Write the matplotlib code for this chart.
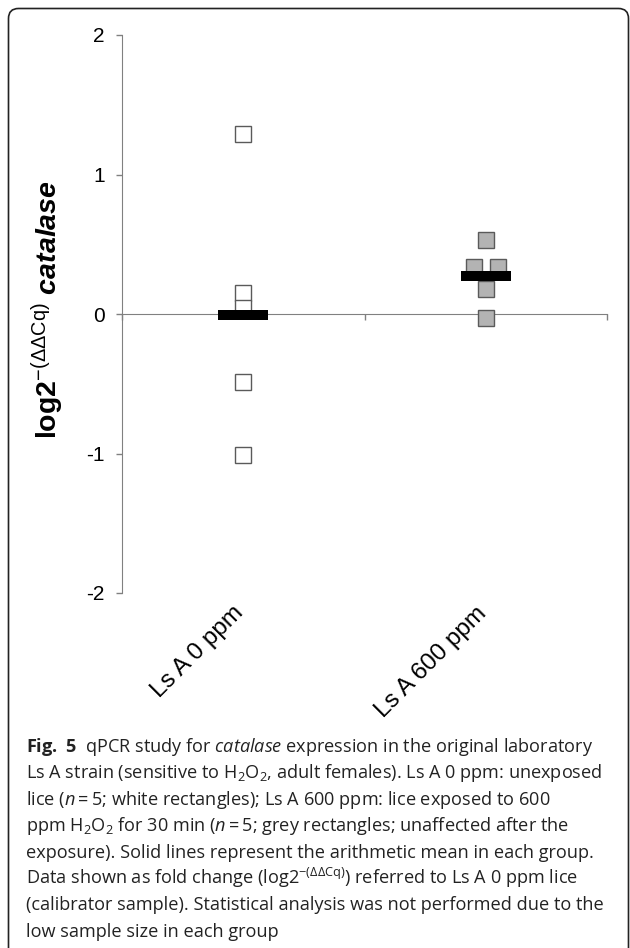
import matplotlib
matplotlib.use('Agg')
import matplotlib.pyplot as plt
import matplotlib.patches as mpatches
import matplotlib.transforms as mtransforms
import numpy as np

# --- data ---
groups = ['Ls A 0 ppm', 'Ls A 600 ppm']
vals_0ppm = [1.29, 0.15, 0.04, -0.49, -1.01]
vals_600ppm = [0.53, 0.34, 0.34, 0.18, -0.03]
# sideways nudge so the two tied 600 ppm points don't hide each other
jitter_0ppm = [0, 0, 0, 0, 0]
jitter_600ppm = [0, -0.05, 0.05, 0, 0]
yticks = [-2, -1, 0, 1, 2]
ytick_labels = ['-2', '-1', '0', '1', '2']

caption_lines = [
    r'$\mathtt{Fig.\ 5}$  qPCR study for $\mathit{catalase}$ expression in the original laboratory',
    r'Ls A strain (sensitive to H$_2$O$_2$, adult females). Ls A 0 ppm: unexposed',
    r'lice ($\mathit{n}=5$; white rectangles); Ls A 600 ppm: lice exposed to 600',
    r'ppm H$_2$O$_2$ for 30 min ($\mathit{n}=5$; grey rectangles; unaffected after the',
    r'exposure). Solid lines represent the arithmetic mean in each group.',
    r'Data shown as fold change (log2$^{-(\Delta\Delta Cq)}$) referred to Ls A 0 ppm lice',
    r'(calibrator sample). Statistical analysis was not performed due to the',
    r'low sample size in each group',
]

cap_font, cap_size = 'Open Sans', 13.1

plt.rcParams['axes.unicode_minus'] = False
plt.rcParams['mathtext.fontset'] = 'custom'
plt.rcParams['mathtext.default'] = 'regular'
plt.rcParams['mathtext.rm'] = cap_font
plt.rcParams['mathtext.it'] = cap_font + ':italic'
plt.rcParams['mathtext.tt'] = cap_font + ':bold'       # "Fig. 5" in the caption
plt.rcParams['mathtext.bf'] = 'Liberation Sans:bold'    # y label
plt.rcParams['mathtext.sf'] = 'Liberation Sans'
plt.rcParams['mathtext.bfit'] = 'Liberation Sans:bold:italic'

W, H = 630, 948
fig = plt.figure(figsize=(W / 100, H / 100), dpi=100)
ax = fig.add_axes([122 / W, 1 - 593 / H, 485 / W, 558 / H])
ax.set_xlim(0, 2)
ax.set_ylim(-2, 2)

axis_grey = '#808080'
for side in ['top', 'right']:
    ax.spines[side].set_visible(False)
ax.spines['left'].set_color(axis_grey)
ax.spines['bottom'].set_color(axis_grey)
ax.spines['bottom'].set_position(('data', 0))

ax.set_xticks([0, 1, 2])
ax.tick_params(axis='x', direction='out', length=4.5, width=1, color=axis_grey, labelbottom=False)
ax.set_yticks(yticks)
ax.set_yticklabels(ytick_labels, fontsize=15, family='Liberation Sans')
ax.tick_params(axis='y', direction='out', length=4.5, width=1, color=axis_grey, pad=8)

centers = [0.5, 1.5]
series = [(vals_0ppm, jitter_0ppm, 'white'), (vals_600ppm, jitter_600ppm, '#b3b3b3')]
for c, (vals, jit, fc) in zip(centers, series):
    x = c + np.asarray(jit)
    ax.plot(x, vals, ls='none', marker='s', ms=11.5, mfc=fc, mec='#5a5a5a', mew=1, zorder=3)
    # mean bar
    ax.hlines(np.mean(vals), c - 0.103, c + 0.103, color='black', lw=7.2, zorder=4)

# category labels, rotated under the axes
offset = mtransforms.ScaledTranslation(0.05, -0.09, fig.dpi_scale_trans)
for c, name in zip(centers, groups):
    ax.text(c, -2, name, rotation=45, ha='right', va='top', fontsize=17.5,
            family='Liberation Sans', transform=ax.transData + offset, clip_on=False)

ylabel = r'$\mathbf{log2}^{\mathsf{-(\Delta\Delta Cq)}}\ \mathbfit{catalase}$'
fig.text(48 / W, 1 - 310 / H, ylabel, rotation=90, ha='center', va='center',
         fontsize=20.5, family='Liberation Sans')

for i, line in enumerate(caption_lines):
    fig.text(26 / W, 1 - (752 + i * 26.4) / H, line, ha='left', va='baseline',
             fontsize=cap_size, family=cap_font, color='#222222')

# rounded frame around the whole panel (bottom edge runs off the page)
frame = mpatches.FancyBboxPatch((8.5, -30), 620, H - 8.5 + 30,
                                boxstyle='round,pad=0,rounding_size=10',
                                fill=False, ec='#222222', lw=1.2,
                                transform=mtransforms.IdentityTransform())
fig.add_artist(frame)

fig.savefig('out.png', dpi=100)
